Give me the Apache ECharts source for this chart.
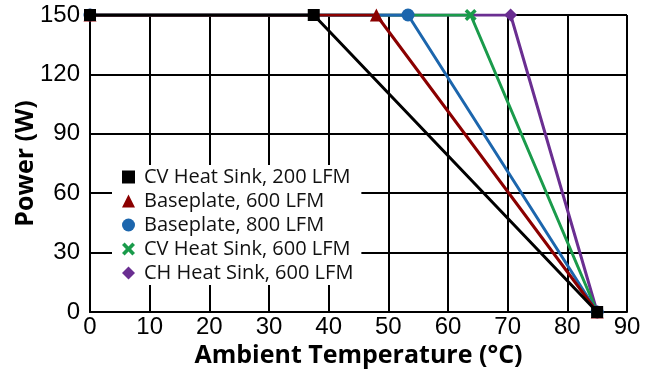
<!DOCTYPE html>
<html>
<head>
<meta charset="utf-8">
<script src="https://cdn.jsdelivr.net/npm/echarts@6/dist/echarts.min.js"></script>
</head>
<body style="margin:0">
<div id="main" style="width:652px;height:373px;"></div>
<script type="text/javascript">
// derating curves: temperature (°C) vs power (W)
var names = ['CV Heat Sink, 200 LFM', 'Baseplate, 600 LFM', 'Baseplate, 800 LFM', 'CV Heat Sink, 600 LFM', 'CH Heat Sink, 600 LFM'];
var temps = [
  [0, 37.5, 85],
  [0, 48, 85],
  [0, 53.3, 85],
  [0, 63.8, 85],
  [0, 70.5, 85]
];
var power = [150, 150, 0];
var colors = ['#000000', '#8b0000', '#1c66ad', '#1a9b4b', '#6a2e91'];
var crossPath = 'path://M2,0 L5,3 L8,0 L10,2 L7,5 L10,8 L8,10 L5,7 L2,10 L0,8 L3,5 L0,2 Z';
var symbols = ['rect', 'triangle', 'circle', crossPath, 'diamond'];

var chart = echarts.init(document.getElementById('main'));

var series = [];
// draw last curve first so black ends up on top
for (var i = names.length - 1; i >= 0; i--) {
  series.push({
    name: names[i],
    type: 'line',
    data: temps[i].map(function (t, k) { return [t, power[k]]; }),
    symbol: symbols[i],
    symbolSize: i == 0 ? 12 : (i == 3 ? 12 : 13),
    showAllSymbol: true,
    lineStyle: { color: colors[i], width: 3 },
    itemStyle: { color: colors[i] },
    z: 10 - i
  });
}

var option = {
  animation: false,
  grid: { left: 90, right: 25, top: 15, bottom: 61, outerBoundsMode: 'none', containLabel: false },
  legend: {
    orient: 'vertical',
    left: 112,
    top: 165,
    padding: [2, 8, 2, 10],
    backgroundColor: '#fff',
    z: 20,
    itemGap: 4,
    itemWidth: 13,
    itemHeight: 13,
    textStyle: { fontFamily: 'Open Sans', fontSize: 20, lineHeight: 20, color: '#111', padding: [0, 0, 0, 4] },
    data: names.map(function (n, i) { return { name: n, icon: symbols[i] }; })
  },
  xAxis: {
    type: 'value',
    min: 0, max: 90, interval: 10,
    name: 'Ambient Temperature (°C)',
    nameLocation: 'middle',
    nameGap: 31,
    nameMoveOverlap: false,
    nameTextStyle: { fontFamily: 'Open Sans', fontWeight: 'bold', fontSize: 25, color: '#000' },
    axisLine: { lineStyle: { color: '#000', width: 2 } },
    axisTick: { show: false },
    axisLabel: { fontFamily: 'Liberation Sans', fontSize: 24, color: '#000', margin: 3 },
    splitLine: { lineStyle: { color: '#000', width: 2 } }
  },
  yAxis: {
    type: 'value',
    min: 0, max: 150, interval: 30,
    name: 'Power (W)',
    nameLocation: 'middle',
    nameGap: 52,
    nameMoveOverlap: false,
    nameTextStyle: { fontFamily: 'Open Sans', fontWeight: 'bold', fontSize: 25, color: '#000' },
    axisLine: { show: true, lineStyle: { color: '#000', width: 2 } },
    axisTick: { show: false },
    axisLabel: { fontFamily: 'Liberation Sans', fontSize: 24, color: '#000', margin: 10 },
    splitLine: { lineStyle: { color: '#000', width: 2 } }
  },
  series: series
};

chart.setOption(option);
</script>
</body>
</html>
